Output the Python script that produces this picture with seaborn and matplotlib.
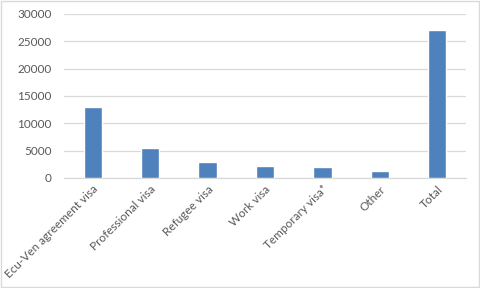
import matplotlib
matplotlib.use("Agg")
import matplotlib.pyplot as plt
import seaborn as sns
import pandas as pd
from matplotlib.patches import Rectangle

categories = ["Ecu-Ven agreement visa", "Professional visa", "Refugee visa",
              "Work visa", "Temporary visa*", "Other", "Total"]
values = [13000, 5500, 2950, 2200, 2000, 1300, 27100]
yticks = [0, 5000, 10000, 15000, 20000, 25000, 30000]

sns.set_theme(style="white")
plt.rcParams['font.family'] = ['Lato', 'DejaVu Sans']

df = pd.DataFrame({"cat": categories, "val": values})

fig = plt.figure(figsize=(4.8, 2.88), dpi=100)
ax = fig.add_axes([64/480, 1-178/288, (466-64)/480, (178-14)/288])

sns.barplot(data=df, x="cat", y="val", color="#4F81BD", width=0.32,
            saturation=1, ax=ax, zorder=3)

ax.set_ylim(0, 30000)
ax.set_yticks(yticks)
ax.set_yticklabels([str(t) for t in yticks])
ax.set_xlim(-0.5, len(categories) - 0.5)
ax.yaxis.grid(True, color="#D9D9D9", linewidth=0.9, zorder=0)
ax.set_axisbelow(True)
for s in ["top", "right", "left"]:
    ax.spines[s].set_visible(False)
ax.spines["bottom"].set_color("#D9D9D9")
ax.spines["bottom"].set_linewidth(0.9)
ax.set_xlabel("")
ax.set_ylabel("")
ax.tick_params(axis="y", length=0, pad=9, labelsize=8.5, labelcolor="#595959")
ax.tick_params(axis="x", length=0, pad=4, labelsize=8.5, labelcolor="#595959")
plt.setp(ax.get_xticklabels(), rotation=45, ha="right", rotation_mode="anchor")

fig.patches.append(Rectangle((0.002, 0.003), 0.996, 0.994, transform=fig.transFigure,
                             fill=False, edgecolor="#D9D9D9", linewidth=1))

fig.savefig("out.png", dpi=100)
